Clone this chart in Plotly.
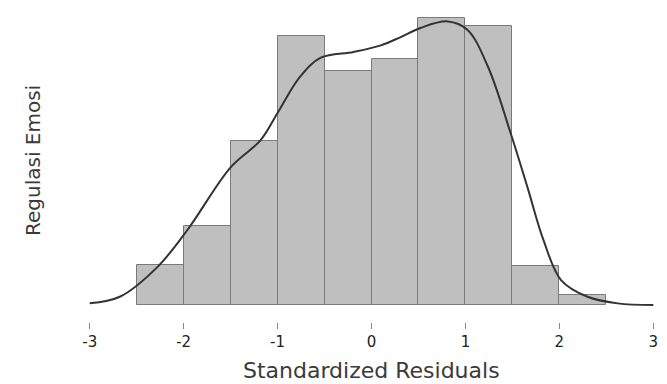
import plotly.graph_objects as go

# Histogram bins (standardized residuals) and density heights
bin_left = [-2.5, -2.0, -1.5, -1.0, -0.5, 0.0, 0.5, 1.0, 1.5, 2.0]
bin_width = 0.5
density = [0.048, 0.096, 0.199, 0.326, 0.284, 0.299, 0.348, 0.338, 0.047, 0.012]

# Kernel density curve
kde_x = [-3.0, -2.68, -2.28, -1.96, -1.50, -1.18, -1.00, -0.76, -0.54, -0.19,
         0.10, 0.31, 0.52, 0.81, 1.02, 1.24, 1.48, 1.66, 1.83, 2.02, 2.30, 2.62, 3.0]
kde_y = [0.002, 0.010, 0.046, 0.091, 0.167, 0.200, 0.233, 0.277, 0.300, 0.307,
         0.315, 0.325, 0.336, 0.344, 0.334, 0.289, 0.209, 0.143, 0.079, 0.030,
         0.010, 0.002, 0.0]

x_ticks = [-3, -2, -1, 0, 1, 2, 3]

centers = [b + bin_width / 2 for b in bin_left]

fig = go.Figure()
fig.add_trace(go.Bar(
    x=centers, y=density, width=[bin_width] * len(centers),
    marker=dict(color="#bfbfbf", line=dict(color="#7a7a7a", width=1)),
    showlegend=False, hoverinfo="skip"))
fig.add_trace(go.Scatter(
    x=kde_x, y=kde_y, mode="lines",
    line=dict(color="#333333", width=2, shape="spline", smoothing=1.0),
    showlegend=False, hoverinfo="skip"))

# page body has an 8px margin; figure sized to fit the window exactly
fig.update_layout(
    width=659, height=376,
    margin=dict(l=77, r=9, t=6, b=62, autoexpand=False),
    paper_bgcolor="white", plot_bgcolor="white",
    bargap=0,
    font=dict(family="DejaVu Sans", color="#333333"),
    xaxis=dict(
        range=[-3.05, 3.05], tickmode="array", tickvals=x_ticks,
        ticktext=[str(t) for t in x_ticks],
        ticks="outside", ticklen=6, tickcolor="#888888", tickwidth=1,
        showgrid=False, zeroline=False, showline=False,
        tickfont=dict(size=15, color="#222222"),
    ),
    yaxis=dict(
        range=[-0.0206, 0.353], showticklabels=False, ticks="",
        showgrid=False, zeroline=False, showline=False,
    ),
    annotations=[
        dict(text="Regulasi Emosi", textangle=-90, xref="paper", yref="paper",
             x=(33 - 85) / 573, y=(322 - 161) / 308, showarrow=False,
             font=dict(size=20, color="#3a3a3a"), xanchor="center", yanchor="middle"),
        dict(text="Standardized Residuals", xref="paper", yref="paper",
             x=(371 - 85) / 573, y=(322 - 370) / 308, showarrow=False,
             font=dict(size=22, color="#3a3a3a"), xanchor="center", yanchor="middle"),
    ],
)

fig.write_html("out.html")
